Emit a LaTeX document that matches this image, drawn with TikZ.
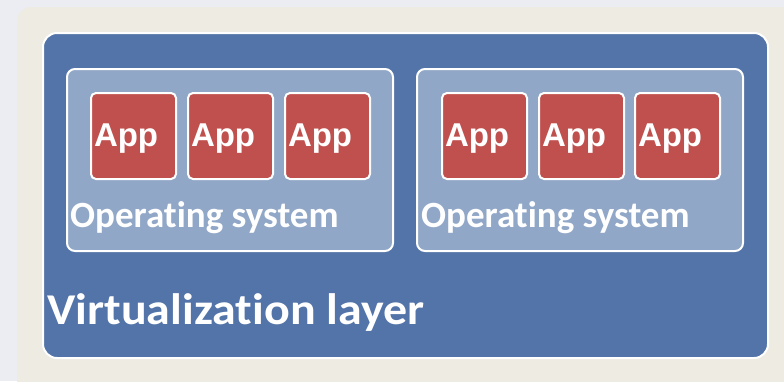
\documentclass[tikz,border=0pt]{standalone}
\usepackage{fontspec}
\setmainfont{Carlito}[Ligatures=NoCommon]
\newfontfamily\appfont{Liberation Sans}
\definecolor{pagebg}{HTML}{ECEDF2}
\definecolor{framebg}{HTML}{EDEBE2}
\definecolor{layerblue}{HTML}{5374A8}
\definecolor{osblue}{HTML}{91A7C7}
\definecolor{appred}{HTML}{C0504D}
\tikzset{
  layerbox/.style={draw=white, line width=2pt, fill=layerblue, rounded corners=14pt,
    rectangle, anchor=north west, inner sep=0pt},
  osbox/.style={draw=white, line width=2pt, fill=osblue, rounded corners=8pt,
    rectangle, anchor=north west, inner sep=0pt,
    minimum width=326pt, minimum height=182pt},
  appbox/.style={draw=white, line width=2pt, fill=appred, rounded corners=5pt,
    rectangle, anchor=north west, inner sep=0pt,
    minimum width=85pt, minimum height=86pt,
    text width=79pt, align=left, text depth=2pt,
    text=white, font=\appfont\bfseries\fontsize{33}{34}\selectfont},
  oslabel/.style={anchor=base west, inner sep=0pt, text=white,
    font=\bfseries\fontsize{37}{40}\selectfont},
  layerlabel/.style={anchor=base west, inner sep=0pt, text=white,
    font=\bfseries\fontsize{44}{48}\selectfont}
}
\begin{document}
\begin{tikzpicture}[x=1pt,y=-1pt]
  \useasboundingbox (0,0) rectangle (784,381);
  \clip (0,0) rectangle (784,381);
  % page and outer frame
  \fill[pagebg] (0,0) rectangle (784,381);
  \fill[framebg, rounded corners=14pt] (17,7) rectangle (820,420);
  % virtualization layer
  \node[layerbox, minimum width=725pt, minimum height=325pt] (virt) at (42,32) {};
  \node[layerlabel, xscale=1.09] (virtlbl) at (47,324) {Virtualization layer};
  % two guest operating systems
  \node[osbox] (osA) at (66,68) {};
  \node[osbox] (osB) at (416,68) {};
  \node[oslabel] (osAlbl) at (70,227) {Operating system};
  \node[oslabel] (osBlbl) at (421,227) {Operating system};
  % applications
  \node[appbox] (appA1) at (90,92)  {App};
  \node[appbox] (appA2) at (187,92) {App};
  \node[appbox] (appA3) at (284,92) {App};
  \node[appbox] (appB1) at (441,92) {App};
  \node[appbox] (appB2) at (538,92) {App};
  \node[appbox] (appB3) at (634,92) {App};
\end{tikzpicture}
\end{document}
